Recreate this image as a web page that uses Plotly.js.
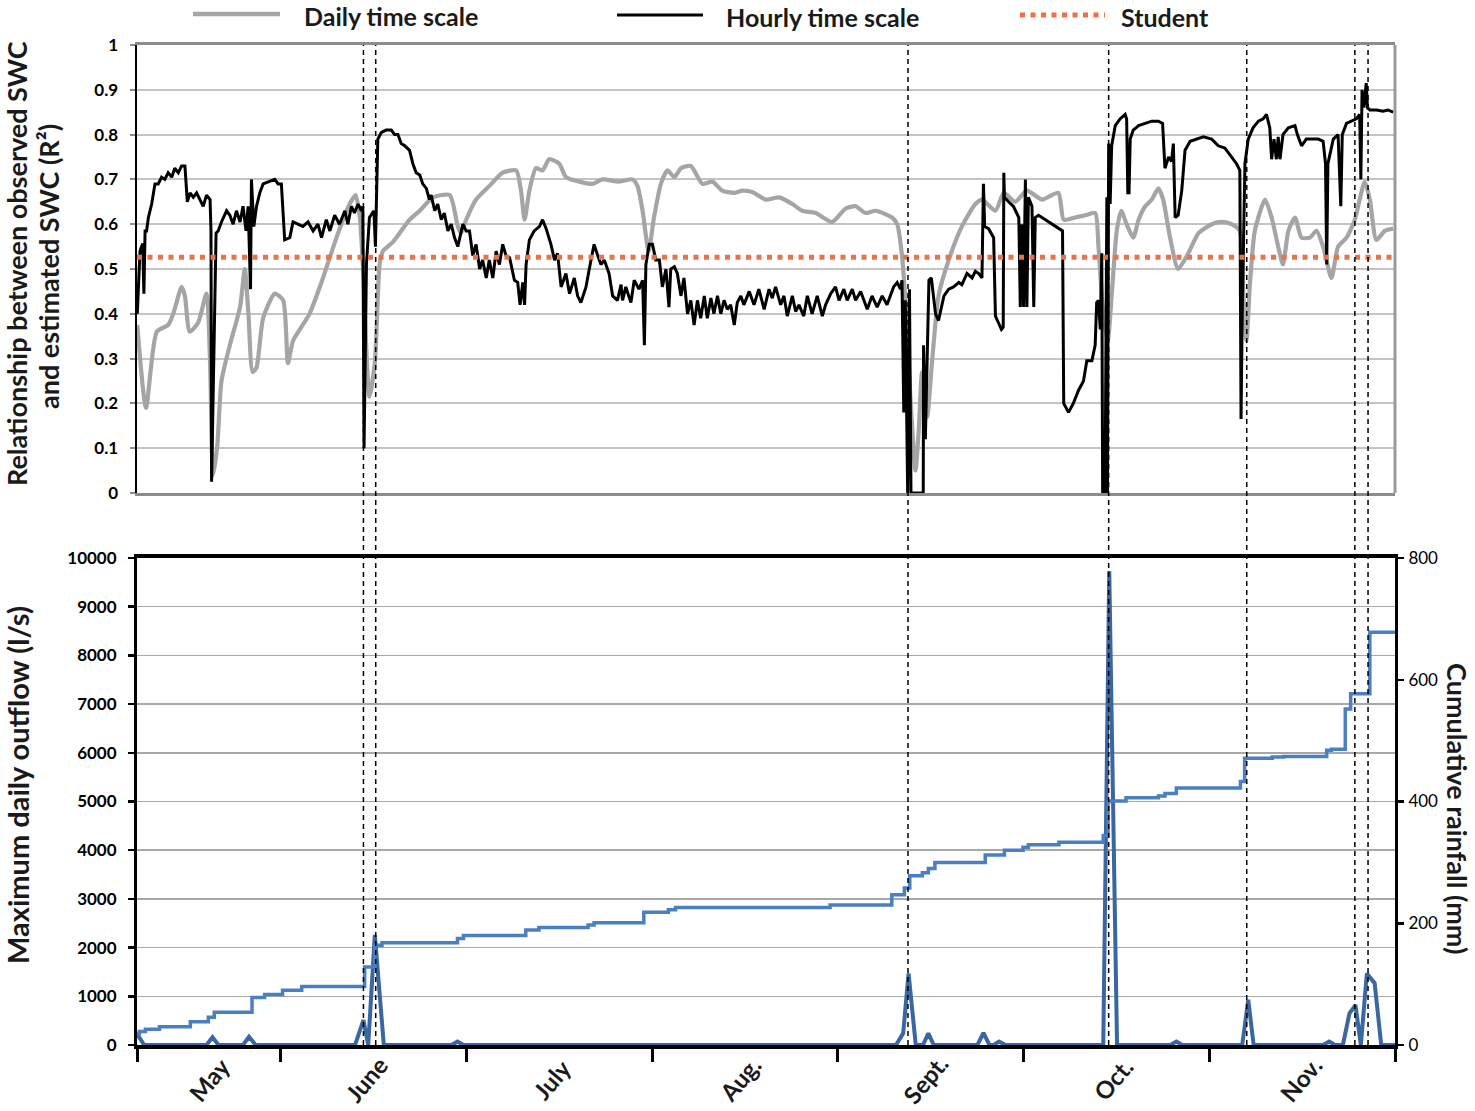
<!DOCTYPE html>
<html>
<head>
<meta charset="utf-8">
<script src="https://cdn.plot.ly/plotly-3.0.1.min.js"></script>
<style>
  html, body { margin: 0; padding: 0; background: #fff; }
  #chart { width: 1475px; height: 1111px; }
</style>
</head>
<body>
<div id="chart"></div>
<script>
// ---- time axis: day index from the start of the record ----
const monthEdges  = [0, 24, 55, 86, 117, 148, 179, 210];
const monthLabels = ['May', 'June', 'July', 'Aug.', 'Sept.', 'Oct.', 'Nov.'];
const monthLabelShift = [0, -8, -8, -6, -6, -4, -2];

// days with major rainfall / runoff events
const eventDays = [37.8, 39.85, 128.7, 162.2, 185.25, 203.3, 205.5];

// ---- R² between observed and estimated SWC, daily time scale ----
const dailyDay = [0.05,1.5,3.3,5.2,6.05,7.45,8.0,8.8,10.2,11.6,12.2,12.7,13.4,14.1,15.5,17.2,18.0,18.6,19.3,19.95,
  21.05,23.0,24.4,25.2,26.05,28.8,31.05,33.3,35.5,36.5,37.2,37.7,38.8,39.7,40.5,41.05,42.7,45.5,47.2,49.4,
  52.2,53.55,54.1,54.95,56.6,58.8,61.05,63.3,64.1,64.7,65.5,66.6,67.7,68.8,70.5,71.6,73.8,76.05,77.7,80.5,
  82.7,83.55,84.4,85.4,86.3,87.45,88.55,89.7,90.8,92.45,94.4,96.05,97.7,99.7,101.05,102.7,104.95,107.2,109.4,111.05,
  113.3,116.05,118.3,119.95,121.6,123.3,126.05,126.9,127.7,128.55,129.1,129.95,130.5,131.05,131.9,132.7,133.8,135.5,137.7,139.95,
  141.05,143.3,144.7,146.6,148.55,151.05,153.8,154.7,156.6,158.3,159.95,160.5,161.3,162.05,162.7,163.55,164.3,165.2,166.3,167.2,
  168.3,169.4,170.5,171.3,172.45,173.8,175.5,177.2,179.4,181.05,182.7,184.1,184.7,185.2,185.8,186.6,188.3,189.4,190.5,191.3,
  192.2,193.3,194.4,195.8,196.9,198.0,199.4,200.5,201.9,203.3,204.1,204.95,205.8,206.9,208.3,209.7];
const dailyR2 = [0.375,0.19,0.36,0.375,0.40,0.46,0.44,0.36,0.38,0.445,0.29,0.04,0.105,0.25,0.33,0.415,0.50,0.40,0.27,0.28,
  0.39,0.445,0.43,0.29,0.34,0.40,0.48,0.57,0.645,0.665,0.615,0.51,0.215,0.29,0.51,0.54,0.56,0.61,0.63,0.66,
  0.665,0.595,0.58,0.61,0.655,0.685,0.715,0.72,0.675,0.61,0.675,0.725,0.72,0.745,0.735,0.705,0.695,0.69,0.70,0.695,
  0.70,0.685,0.63,0.54,0.615,0.69,0.72,0.705,0.725,0.73,0.69,0.695,0.675,0.67,0.675,0.672,0.655,0.66,0.645,0.63,
  0.625,0.605,0.635,0.64,0.625,0.63,0.615,0.60,0.53,0.365,0.215,0.05,0.14,0.27,0.17,0.29,0.44,0.52,0.595,0.645,
  0.655,0.63,0.67,0.65,0.675,0.655,0.67,0.61,0.615,0.62,0.625,0.55,0.40,0.34,0.44,0.585,0.63,0.60,0.57,0.61,
  0.64,0.655,0.68,0.655,0.57,0.50,0.535,0.58,0.60,0.605,0.60,0.585,0.44,0.34,0.47,0.585,0.655,0.615,0.55,0.51,
  0.585,0.615,0.57,0.57,0.585,0.55,0.48,0.55,0.57,0.61,0.655,0.695,0.655,0.565,0.585,0.59];

// ---- R² between observed and estimated SWC, hourly time scale ----
const hourlyDay = [0.05,0.5,0.95,1.15,1.35,1.6,1.9,2.45,3.0,3.55,4.1,4.65,5.2,5.8,6.3,6.9,7.45,8.0,8.4,8.85,
  9.4,9.95,10.5,11.05,11.6,12.2,12.35,12.45,13.2,13.55,14.1,14.95,15.5,16.05,16.6,17.2,17.7,18.2,18.55,18.95,
  19.1,19.5,19.95,20.5,21.05,22.2,23.0,23.55,24.1,24.65,25.5,26.05,26.9,27.7,28.55,29.4,30.2,30.8,31.6,32.2,
  33.0,33.8,34.7,35.2,35.8,36.3,36.9,37.45,37.7,37.9,38.3,38.8,39.55,39.8,40.2,40.8,41.6,42.45,43.0,43.55,
  44.1,44.7,45.5,46.05,46.6,47.2,47.7,48.3,48.8,49.1,49.7,50.2,50.8,51.3,51.9,52.45,53.0,53.55,54.4,54.95,
  55.5,56.05,56.6,57.2,57.7,58.3,58.8,59.4,59.95,60.5,61.05,61.6,62.2,63.0,63.55,63.95,64.4,64.7,64.95,65.5,
  66.3,67.2,67.7,68.3,69.1,69.7,70.2,70.8,71.6,72.2,73.0,73.55,74.1,74.95,75.5,76.3,76.9,77.45,78.0,78.8,
  79.4,80.2,80.8,81.05,81.6,82.45,83.0,83.8,84.4,84.7,84.95,85.5,86.05,86.6,87.2,87.7,88.3,88.8,89.1,89.7,
  90.2,90.8,91.3,91.9,92.45,93.0,93.55,94.1,94.7,95.2,95.8,96.3,96.9,97.45,98.0,98.55,99.1,99.7,100.2,100.8,
  101.3,102.2,103.0,103.8,104.7,105.5,106.05,106.6,107.45,108.0,108.55,109.4,109.95,110.5,111.3,111.9,112.7,113.55,114.4,114.95,
  115.8,116.6,117.2,118.0,118.55,119.4,119.95,120.8,121.9,122.7,123.55,124.4,125.2,125.8,126.3,126.9,127.45,127.7,128.0,128.25,
  128.65,128.95,129.2,131.25,131.3,131.6,131.9,132.2,132.6,132.9,133.3,133.8,134.7,135.5,136.3,137.2,137.7,138.55,139.4,139.95,
  140.5,141.05,141.3,141.5,142.15,143.0,143.3,143.8,144.3,144.6,144.7,144.8,145.5,146.3,147.2,147.45,147.7,148.0,148.3,148.55,
  148.8,149.4,149.7,149.95,150.5,151.6,152.7,153.8,154.5,154.7,155.5,156.3,157.2,158.0,158.55,159.4,159.95,160.2,160.5,160.8,
  161.05,161.2,161.6,161.9,162.0,162.2,162.45,162.7,163.3,164.1,164.95,165.2,165.4,165.6,165.8,166.3,167.2,168.3,169.4,170.5,
  171.2,171.6,172.2,172.7,173.0,173.3,173.8,174.4,174.95,175.8,176.9,178.0,179.4,180.5,181.6,182.7,183.55,184.1,184.3,184.5,
  184.95,185.5,186.3,187.2,188.0,188.55,189.1,189.4,189.8,190.2,190.5,190.8,191.3,192.2,193.3,193.7,194.4,195.2,196.05,197.2,
  198.0,198.4,198.6,198.8,199.7,200.5,200.95,201.2,201.9,202.7,203.55,204.1,204.3,204.5,204.8,205.2,205.4,205.8,206.9,208.0,
  208.8,209.7];
const hourlyR2 = [0.40,0.54,0.557,0.445,0.585,0.585,0.615,0.645,0.69,0.69,0.705,0.70,0.715,0.705,0.725,0.715,0.73,0.73,0.65,0.67,
  0.66,0.67,0.655,0.64,0.665,0.655,0.585,0.025,0.58,0.585,0.605,0.63,0.62,0.60,0.63,0.605,0.64,0.585,0.64,0.455,
  0.70,0.595,0.64,0.67,0.69,0.695,0.70,0.69,0.69,0.565,0.57,0.605,0.60,0.595,0.605,0.585,0.60,0.57,0.61,0.585,
  0.62,0.60,0.63,0.60,0.64,0.625,0.645,0.63,0.64,0.10,0.51,0.615,0.63,0.55,0.79,0.805,0.81,0.81,0.80,0.80,
  0.78,0.775,0.765,0.735,0.715,0.71,0.69,0.68,0.655,0.665,0.63,0.645,0.61,0.625,0.585,0.60,0.57,0.55,0.60,0.585,
  0.585,0.53,0.555,0.50,0.52,0.48,0.52,0.48,0.54,0.51,0.555,0.53,0.525,0.475,0.47,0.42,0.47,0.42,0.51,0.565,
  0.585,0.595,0.61,0.59,0.555,0.52,0.535,0.46,0.49,0.445,0.48,0.44,0.425,0.46,0.50,0.555,0.53,0.51,0.52,0.49,
  0.44,0.43,0.465,0.43,0.46,0.425,0.475,0.455,0.475,0.33,0.51,0.555,0.555,0.52,0.52,0.46,0.50,0.415,0.50,0.505,
  0.49,0.44,0.48,0.40,0.43,0.375,0.43,0.39,0.44,0.39,0.435,0.40,0.44,0.40,0.43,0.41,0.42,0.375,0.425,0.44,
  0.42,0.45,0.42,0.455,0.41,0.455,0.435,0.46,0.42,0.44,0.395,0.44,0.405,0.42,0.395,0.44,0.40,0.44,0.395,0.42,
  0.445,0.46,0.43,0.455,0.43,0.455,0.43,0.45,0.41,0.44,0.415,0.44,0.42,0.44,0.46,0.47,0.455,0.475,0.18,0.43,
  0.0,0.455,0.0,0.0,0.33,0.12,0.33,0.475,0.48,0.45,0.40,0.385,0.44,0.455,0.46,0.47,0.465,0.49,0.48,0.495,
  0.49,0.48,0.69,0.595,0.59,0.57,0.395,0.38,0.365,0.37,0.715,0.66,0.65,0.64,0.615,0.415,0.60,0.415,0.70,0.415,
  0.66,0.64,0.415,0.615,0.62,0.61,0.60,0.59,0.585,0.20,0.18,0.20,0.23,0.25,0.295,0.295,0.33,0.425,0.43,0.365,
  0.535,0.0,0.0,0.66,0.0,0.78,0.645,0.775,0.82,0.835,0.845,0.835,0.67,0.67,0.79,0.81,0.82,0.825,0.83,0.83,
  0.825,0.725,0.75,0.74,0.78,0.615,0.62,0.675,0.765,0.785,0.79,0.795,0.79,0.775,0.77,0.75,0.735,0.72,0.165,0.40,
  0.735,0.79,0.815,0.83,0.835,0.845,0.815,0.745,0.79,0.745,0.795,0.745,0.80,0.815,0.82,0.80,0.775,0.79,0.79,0.79,
  0.785,0.735,0.51,0.735,0.79,0.80,0.64,0.80,0.825,0.83,0.835,0.845,0.70,0.90,0.86,0.915,0.86,0.855,0.855,0.852,
  0.855,0.85];

// Student threshold
const studentR2 = 0.526;

// ---- maximum daily outflow (l/s) ----
const outflowDay = [0,1.2,11.6,12.6,13.6,17.7,18.7,19.8,36.4,37.8,38.6,39.7,41.2,52.5,53.5,54.5,126.7,127.9,128.8,130.0,
  131.2,132.1,133.0,140.3,141.3,142.3,143.0,143.9,145.0,161.3,162.3,163.6,172.5,173.5,174.5,184.5,185.5,186.4,198.0,199.0,
  200.0,201.3,202.4,203.4,204.3,205.3,206.6,207.7,210];
const outflowLs = [230,0,0,160,0,0,170,0,0,510,0,2260,0,0,70,0,0,240,1470,0,
  0,240,0,0,250,0,0,70,0,0,9730,0,0,70,0,0,930,0,0,70,
  0,0,650,820,0,1470,1270,0,0];

// ---- cumulative rainfall (mm) ----
const rainDay = [0,0.4,1.4,3.75,8.9,11.9,12.9,19.2,21.3,24.3,27.5,38.0,39.7,40.9,53.5,54.5,64.9,67.1,75.3,76.3,
  84.6,88.7,89.9,115.7,126.0,128.1,129.0,131.1,132.1,133.2,141.6,144.8,147.9,148.8,153.9,161.3,162.1,162.5,165.1,170.5,
  171.6,173.5,184.2,184.9,189.5,191.4,198.6,199.4,201.7,202.6,205.8,210];
const rainMm = [19,22,26,30,38,45.5,54,78,83,90,96,128,164,168,175,180,189,193,197,201,
  218,222,226,230,247,258,278,283,290,300,312,320,325,329,333,344,400,401,406,409,
  413,422,433,471,473,474,484,486,552,577,678,678];

// ---- styling ----
const FONT = 'Lato, Carlito, Calibri, "Open Sans", sans-serif';
const W = 1475, H = 1111;
const L = 137, R = 80, T = 45, B = 66;
const plotW = W - L - R, plotH = H - T - B;
const px2x = px => (px - L) / plotW;          // pixel -> paper x
const px2y = py => (H - B - py) / plotH;      // pixel -> paper y

const cDaily = '#a5a5a7', cHourly = '#000000', cStudent = '#f26f45';
const cOutflow = '#3a66a2', cRain = '#4a7fc2';

const traces = [
  { x: dailyDay, y: dailyR2, type: 'scatter', mode: 'lines', name: 'Daily time scale',
    line: { color: cDaily, width: 4.2, shape: 'spline', smoothing: 0.6 }, xaxis: 'x', yaxis: 'y' },
  { x: hourlyDay, y: hourlyR2, type: 'scatter', mode: 'lines', name: 'Hourly time scale',
    line: { color: cHourly, width: 3 }, xaxis: 'x', yaxis: 'y' },
  { x: [monthEdges[0], monthEdges[monthEdges.length - 1]], y: [studentR2, studentR2],
    type: 'scatter', mode: 'lines', name: 'Student',
    line: { color: cStudent, width: 5, dash: '5px,5.5px' }, xaxis: 'x', yaxis: 'y' },
  { x: rainDay, y: rainMm, type: 'scatter', mode: 'lines', name: 'Cumulative rainfall',
    line: { color: cRain, width: 3.5, shape: 'hv' }, xaxis: 'x2', yaxis: 'y3' },
  { x: outflowDay, y: outflowLs, type: 'scatter', mode: 'lines', name: 'Maximum daily outflow',
    line: { color: cOutflow, width: 4 }, xaxis: 'x2', yaxis: 'y2' }
];

const tickFont = { family: FONT, size: 17, color: '#000', weight: 'bold' };
const legendFont = { family: FONT, size: 25, color: '#1a1a1a', weight: 'bold' };

const topDomain = [px2y(493), 1];
const botDomain = [0, px2y(558)];

const shapes = [];
// event markers crossing both panels
eventDays.forEach(d => shapes.push({
  type: 'line', xref: 'x', yref: 'paper', x0: d, x1: d, y0: 0, y1: 1,
  line: { color: '#000', width: 1.5, dash: '5px,4px' }, layer: 'above'
}));
// right border of the upper panel
shapes.push({ type: 'line', xref: 'paper', yref: 'paper', x0: 1, x1: 1, y0: topDomain[0], y1: 1,
  line: { color: '#9a9a9a', width: 3 } });
// legend samples
shapes.push({ type: 'line', xref: 'paper', yref: 'paper', x0: px2x(193), x1: px2x(280), y0: px2y(14), y1: px2y(14),
  line: { color: cDaily, width: 4.5 } });
shapes.push({ type: 'line', xref: 'paper', yref: 'paper', x0: px2x(617), x1: px2x(703), y0: px2y(15), y1: px2y(15),
  line: { color: cHourly, width: 3 } });
shapes.push({ type: 'line', xref: 'paper', yref: 'paper', x0: px2x(1020), x1: px2x(1105), y0: px2y(15), y1: px2y(15),
  line: { color: cStudent, width: 5, dash: '5px,5.5px' } });

const annotations = [
  { text: 'Daily time scale', x: px2x(302), y: px2y(16), xanchor: 'left', yanchor: 'middle' },
  { text: 'Hourly time scale', x: px2x(724), y: px2y(17), xanchor: 'left', yanchor: 'middle' },
  { text: 'Student', x: px2x(1119), y: px2y(17), xanchor: 'left', yanchor: 'middle' }
].map(a => Object.assign({ xref: 'paper', yref: 'paper', showarrow: false, font: legendFont }, a));

// axis titles
const axisTitle = (text, px, py, angle, size) => ({
  text: text, xref: 'paper', yref: 'paper', x: px2x(px), y: px2y(py), textangle: angle,
  showarrow: false, xanchor: 'center', yanchor: 'middle',
  font: { family: FONT, size: size, color: '#1a1a1a', weight: 'bold' }
});
annotations.push(
  axisTitle('Relationship between observed SWC', 16, 264, -90, 27),
  axisTitle('and estimated SWC (R²)', 48, 267, -90, 27),
  axisTitle('Maximum daily outflow (l/s)', 17, 785, -90, 29),
  axisTitle('Cumulative rainfall (mm)', 1458, 808, 90, 27)
);

// month names centred in each month interval
monthLabels.forEach((m, i) => annotations.push({
  text: m, xref: 'x2', yref: 'paper', x: (monthEdges[i] + monthEdges[i + 1]) / 2, y: px2y(1079),
  xshift: monthLabelShift[i], textangle: -50, showarrow: false, xanchor: 'center', yanchor: 'middle',
  font: { family: FONT, size: 24, color: '#1a1a1a', weight: 'bold' }
}));

const layout = {
  width: W, height: H,
  margin: { l: L, r: R, t: T, b: B },
  paper_bgcolor: '#fff', plot_bgcolor: '#fff',
  showlegend: false,
  xaxis: {
    domain: [0, 1], anchor: 'y', range: [monthEdges[0], monthEdges[monthEdges.length - 1]],
    showgrid: false, zeroline: false, showticklabels: false, ticks: '',
    showline: true, linecolor: '#8c8c8c', linewidth: 3, mirror: true
  },
  yaxis: {
    domain: topDomain, anchor: 'x', range: [0, 1], dtick: 0.1, tick0: 0,
    showgrid: true, gridcolor: '#c4c4c4', gridwidth: 2, zeroline: false,
    showline: true, linecolor: '#000', linewidth: 2.5,
    ticks: 'outside', ticklen: 5, tickwidth: 2, tickcolor: '#8c8c8c', ticklabelstandoff: 8,
    tickfont: tickFont
  },
  xaxis2: {
    domain: [0, 1], anchor: 'y2', range: [monthEdges[0], monthEdges[monthEdges.length - 1]],
    tickmode: 'array', tickvals: monthEdges, ticktext: monthEdges.map(() => ''),
    ticks: 'outside', ticklen: 13, tickwidth: 3, tickcolor: '#000',
    showgrid: false, zeroline: false,
    showline: true, linecolor: '#000', linewidth: 4, mirror: true
  },
  yaxis2: {
    domain: botDomain, anchor: 'x2', range: [0, 10000], dtick: 1000, tick0: 0, tickformat: 'd',
    showgrid: true, gridcolor: '#a8a8a8', gridwidth: 1.5, zeroline: false,
    showline: true, linecolor: '#000', linewidth: 3, mirror: true,
    ticks: 'outside', ticklen: 6, tickwidth: 2.5, tickcolor: '#000', ticklabelstandoff: 8,
    tickfont: tickFont
  },
  yaxis3: {
    overlaying: 'y2', side: 'right', anchor: 'x2', range: [0, 800], dtick: 200, tick0: 0,
    showgrid: false, zeroline: false,
    showline: true, linecolor: '#000', linewidth: 3,
    ticks: 'outside', ticklen: 6, tickwidth: 2.5, tickcolor: '#000', ticklabelstandoff: 1,
    tickfont: Object.assign({}, tickFont, { weight: 'normal' })
  },
  shapes: shapes,
  annotations: annotations
};

Plotly.newPlot('chart', traces, layout, { staticPlot: true, displayModeBar: false });
</script>
</body>
</html>
